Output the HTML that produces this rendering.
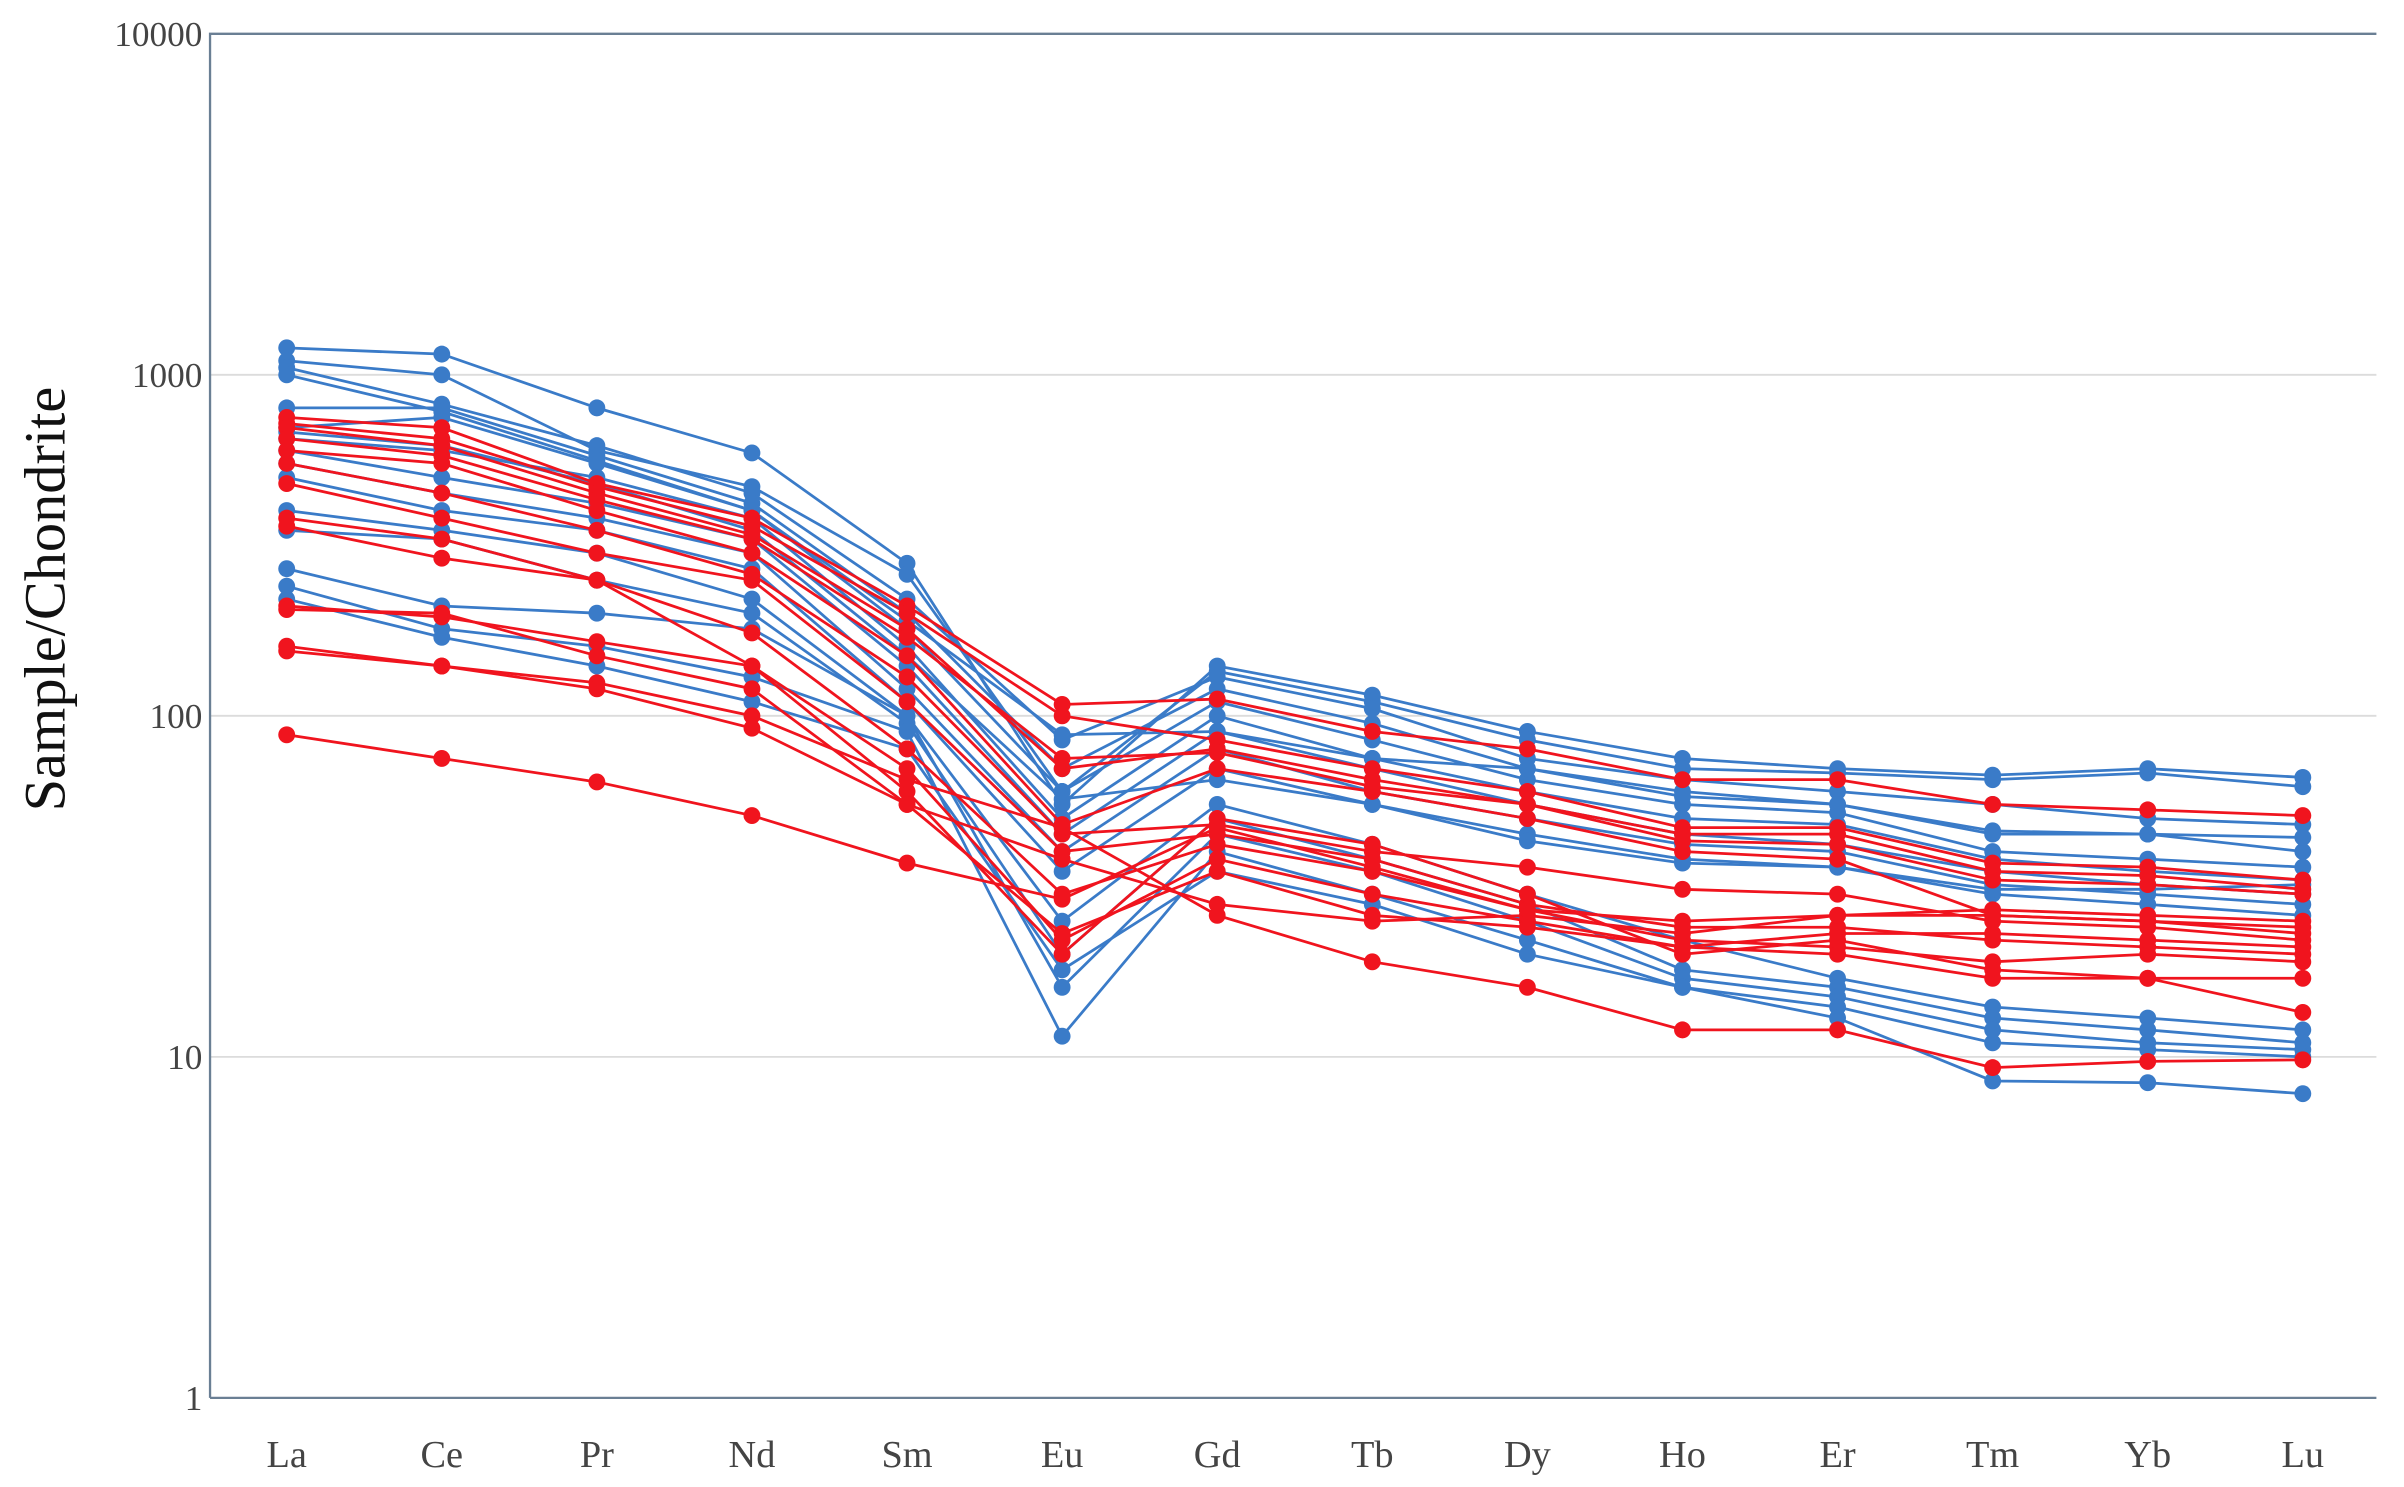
<!DOCTYPE html>
<html><head><meta charset="utf-8"><style>
html,body{margin:0;padding:0;background:#fff}
svg{display:block}
text{font-family:"Liberation Serif",serif}
</style></head><body>
<svg id="chart" width="2404" height="1487" viewBox="0 0 1568 968" preserveAspectRatio="none" xmlns="http://www.w3.org/2000/svg">
<g id="grid"></g>
<g id="axes"></g>
<g id="series"></g>
<text transform="translate(42,390) rotate(-90)" text-anchor="middle" font-size="38" fill="#111">Sample/Chondrite</text>
</svg>
<script>
const categories=["La","Ce","Pr","Nd","Sm","Eu","Gd","Tb","Dy","Ho","Er","Tm","Yb","Lu"];
const yTicks=[1,10,100,1000,10000];
const blueSeries=[
[1200,1150,800,590,280,55,140,115,90,75,70,67,70,66],
[1100,1000,600,470,260,60,135,110,85,70,68,65,68,62],
[1050,820,620,450,220,85,130,105,75,65,60,55,50,48],
[800,800,580,420,200,70,120,95,70,60,55,45,45,40],
[700,750,550,400,180,60,110,85,65,55,52,40,38,36],
[650,600,500,380,160,50,100,75,60,50,48,38,35,33],
[600,500,420,330,140,45,90,70,55,45,42,35,32,30],
[550,450,380,300,120,40,80,60,50,42,40,32,30,28],
[500,400,350,270,110,35,70,55,45,38,36,30,28,26],
[400,350,300,220,100,25,55,42,30,22,17,14,13,12],
[350,330,250,200,95,20,50,38,28,18,16,13,12,11],
[270,210,200,180,100,16,45,35,25,17,15,12,11,10.5],
[240,180,160,130,90,11.5,40,30,22,16,14,11,10.5,10],
[220,170,140,110,80,18,35,28,20,16,13,8.5,8.4,7.8],
[680,620,480,350,150,57,65,55,43,37,36,31,31,32],
[1000,780,560,400,190,88,90,75,70,58,55,46,45,44]
];
const redSeries=[
[750,700,480,380,210,108,112,90,80,65,65,55,53,51],
[720,650,470,360,200,100,85,70,60,47,47,37,36,33],
[700,620,450,340,180,70,80,65,55,45,45,35,34,31],
[650,580,430,330,170,75,78,62,55,43,42,33,32,30],
[600,550,400,300,150,48,70,60,50,40,38,26,25,23],
[550,450,350,260,130,45,48,40,36,31,30,25,24,22],
[480,380,300,250,110,40,45,38,28,24,24,22,21,20],
[380,330,250,175,80,30,42,35,27,22,21,19,20,19],
[360,290,250,140,70,22,38,30,25,21,20,17,17,17],
[210,195,165,140,60,20,50,42,30,20,22,18,17,13.5],
[205,200,150,120,55,23,35,26,24,21,23,23,22,21],
[160,140,125,100,65,47,26,19,16,12,12,9.3,9.7,9.8],
[155,140,120,92,55,38,28,25,26,23,26,26,25,24],
[88,75,64,51,37,29,47,36,27,25,26,27,26,25]
];
const NS="http://www.w3.org/2000/svg";
const L=137,R=1550,T=22,B=910,x0=187,dx=(1502-187)/13;
function xs(i){return x0+i*dx;}
function ys(v){return B-(Math.log10(v)-0)/4*(B-T);}
function mk(tag,attrs,parent){const e=document.createElementNS(NS,tag);for(const k in attrs)e.setAttribute(k,attrs[k]);parent.appendChild(e);return e;}
const grid=document.getElementById('grid'),axes=document.getElementById('axes'),ser=document.getElementById('series');
yTicks.forEach(t=>{
  if(t>1&&t<10000){const g=mk('line',{x1:L,x2:R,y1:ys(t),y2:ys(t),stroke:'#dcdcdc','stroke-width':1.2},grid);
  
  }
  const tx=mk('text',{x:L-5,y:ys(t)+8,'text-anchor':'end','font-size':23,fill:'#444'},axes);
  tx.textContent=t;
  
  
});
categories.forEach((c,i)=>{
  const tx=mk('text',{x:xs(i),y:955,'text-anchor':'middle','font-size':25,fill:'#444'},axes);
  tx.textContent=c;
  
  
});
const fr=mk('path',{d:`M${L},${B} L${L},${T} L${R},${T}`,fill:'none',stroke:'#6a7f94','stroke-width':1.5},axes);


const bl=mk('line',{x1:L,x2:R,y1:B,y2:B,stroke:'#6a7f94','stroke-width':1.5},axes);


function draw(arr,color,name){
  arr.forEach((s,k)=>{
    const g=mk('g',{},ser);
    
    
    const p=mk('polyline',{points:s.map((v,i)=>xs(i)+','+ys(v)).join(' '),fill:'none',stroke:color,'stroke-width':1.8},g);
    
    
    s.forEach((v,i)=>{
      const c=mk('circle',{cx:xs(i),cy:ys(v),r:5.5,fill:color},g);
      
      
    });
  });
}
draw(blueSeries,'#3a7bc8','blue');
draw(redSeries,'#f0141e','red');
</script>
</body></html>
